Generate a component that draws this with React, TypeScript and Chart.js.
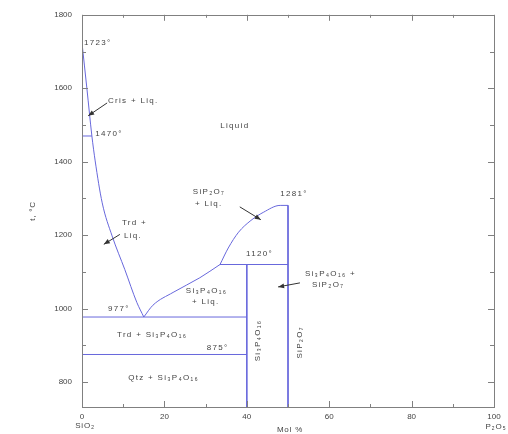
import { useEffect, useRef } from "react";
import { Chart, registerables } from "chart.js";

Chart.register(...registerables);

// Axis ranges and ticks
const molMin = 0;
const molMax = 100;
const tempMin = 732;
const tempMax = 1800;
const molTicks = [0, 10, 20, 30, 40, 50, 60, 70, 80, 90, 100];
const molTickLabels = [0, 20, 40, 60, 80, 100];
const tempTicks = [800, 900, 1000, 1100, 1200, 1300, 1400, 1500, 1600, 1700, 1800];
const tempTickLabels = [800, 1000, 1200, 1400, 1600, 1800];

// Silica liquidus (cristobalite / tridymite + liquid), mol % P2O5 vs °C
const silicaLiquidusMol = [0, 1.2, 2.4, 3.2, 4.9, 7.3, 10.4, 13.3, 15];
const silicaLiquidusT = [1723, 1598, 1470, 1402, 1288, 1198, 1106, 1017, 977];

// Si3P4O16 liquidus from the eutectic to the peritectic
const si3p4LiquidusMol = [15, 17.2, 22.1, 28.6, 33.5];
const si3p4LiquidusT = [977, 1009, 1044, 1084, 1120];

// SiP2O7 liquidus up to its melting point
const sip2LiquidusMol = [33.5, 35.5, 38, 41, 44, 48.1, 50];
const sip2LiquidusT = [1120, 1165, 1208, 1240, 1262, 1281, 1281];

// Invariant lines
const crisTrdMol = [0, 2.4];
const crisTrdT = [1470, 1470];
const eutecticMol = [0, 40];
const eutecticT = [977, 977];
const qtzTrdMol = [0, 40];
const qtzTrdT = [875, 875];
const peritecticMol = [33.5, 50];
const peritecticT = [1120, 1120];
const si3p4Mol = [40, 40];
const si3p4T = [1120, tempMin];
const sip2Mol = [50, 50];
const sip2T = [1281, tempMin];

// [mol, temp, smooth]
const boundaries: [number[], number[], boolean][] = [
  [silicaLiquidusMol, silicaLiquidusT, true],
  [si3p4LiquidusMol, si3p4LiquidusT, true],
  [sip2LiquidusMol, sip2LiquidusT, true],
  [crisTrdMol, crisTrdT, false],
  [eutecticMol, eutecticT, false],
  [qtzTrdMol, qtzTrdT, false],
  [peritecticMol, peritecticT, false],
  [si3p4Mol, si3p4T, false],
  [sip2Mol, sip2T, false],
];

// Field and point labels: [text, mol %, °C, rotated]
const fieldLabels: [string, number, number, boolean][] = [
  ["1723°", 0.5, 1725, false],
  ["Cris + Liq.", 6.3, 1565, false],
  ["1470°", 3.2, 1477, false],
  ["Liquid", 37.1, 1498, false],
  ["SiP₂O₇", 26.9, 1318, false],
  ["+ Liq.", 27.4, 1285, false],
  ["1281°", 48.1, 1312, false],
  ["Trd +", 9.7, 1234, false],
  ["Liq.", 10.2, 1199, false],
  ["1120°", 39.8, 1150, false],
  ["Si₃P₄O₁₆", 25.2, 1048, false],
  ["+ Liq.", 26.7, 1018, false],
  ["977°", 6.3, 1000, false],
  ["Si₃P₄O₁₆ +", 54.1, 1094, false],
  ["SiP₂O₇", 55.8, 1064, false],
  ["Trd + Si₃P₄O₁₆", 8.5, 929, false],
  ["875°", 30.3, 894, false],
  ["Qtz + Si₃P₄O₁₆", 11.2, 811, false],
  ["Si₃P₄O₁₆", 42.7, 913, true],
  ["SiP₂O₇", 52.9, 908, true],
];

// Leader arrows: [from mol, from °C, to mol, to °C]
const leaderArrows: [number, number, number, number][] = [
  [6.1, 1560, 1.5, 1525],
  [9.2, 1202, 5.3, 1175],
  [38.3, 1277, 43.4, 1242],
  [52.9, 1070, 47.6, 1059],
];

const FONT = '"Liberation Sans", Arial, sans-serif';
const TEXT = "#444444";
const AXIS = "#808080";
const LINE = "#6868dc";

const decorPlugin = {
  id: "phaseDecor",
  afterDatasetsDraw(chart: any) {
    const { ctx, chartArea: a, scales } = chart;
    const xs = scales.x;
    const ys = scales.y;
    ctx.save();

    // frame
    ctx.strokeStyle = AXIS;
    ctx.lineWidth = 1;
    ctx.strokeRect(
      Math.round(a.left) + 0.5,
      Math.round(a.top) + 0.5,
      Math.round(a.right - a.left),
      Math.round(a.bottom - a.top)
    );

    // inward tick marks on all four sides
    ctx.beginPath();
    for (const v of molTicks) {
      const px = Math.round(xs.getPixelForValue(v)) + 0.5;
      const len = molTickLabels.includes(v) ? 6 : 3;
      ctx.moveTo(px, a.bottom);
      ctx.lineTo(px, a.bottom - len);
      ctx.moveTo(px, a.top);
      ctx.lineTo(px, a.top + len);
    }
    for (const v of tempTicks) {
      const py = Math.round(ys.getPixelForValue(v)) + 0.5;
      const len = tempTickLabels.includes(v) ? 6 : 4;
      ctx.moveTo(a.left, py);
      ctx.lineTo(a.left + len, py);
      ctx.moveTo(a.right, py);
      ctx.lineTo(a.right - len, py);
    }
    ctx.stroke();

    // labels
    ctx.fillStyle = TEXT;
    ctx.font = `8px ${FONT}`;
    ctx.textBaseline = "middle";
    ctx.letterSpacing = "1.3px";
    for (const [text, m, t, rot] of fieldLabels) {
      const px = xs.getPixelForValue(m);
      const py = ys.getPixelForValue(t);
      if (rot) {
        ctx.save();
        ctx.translate(px, py);
        ctx.rotate(-Math.PI / 2);
        ctx.textAlign = "center";
        ctx.fillText(text, 0, 0);
        ctx.restore();
      } else {
        ctx.textAlign = text === "Liquid" ? "center" : "left";
        ctx.fillText(text, px, py);
      }
    }

    // leader arrows
    ctx.strokeStyle = "#333333";
    ctx.fillStyle = "#333333";
    for (const [m0, t0, m1, t1] of leaderArrows) {
      const x0 = xs.getPixelForValue(m0);
      const y0 = ys.getPixelForValue(t0);
      const x1 = xs.getPixelForValue(m1);
      const y1 = ys.getPixelForValue(t1);
      const ang = Math.atan2(y1 - y0, x1 - x0);
      ctx.beginPath();
      ctx.moveTo(x0, y0);
      ctx.lineTo(x1, y1);
      ctx.stroke();
      const hl = 6;
      const hw = 2.4;
      ctx.beginPath();
      ctx.moveTo(x1, y1);
      ctx.lineTo(
        x1 - hl * Math.cos(ang) + hw * Math.sin(ang),
        y1 - hl * Math.sin(ang) - hw * Math.cos(ang)
      );
      ctx.lineTo(
        x1 - hl * Math.cos(ang) - hw * Math.sin(ang),
        y1 - hl * Math.sin(ang) + hw * Math.cos(ang)
      );
      ctx.closePath();
      ctx.fill();
    }

    // axis end components and titles
    ctx.fillStyle = TEXT;
    ctx.textAlign = "center";
    ctx.letterSpacing = "0.8px";
    ctx.fillText("SiO₂", xs.getPixelForValue(molMin) + 3, a.bottom + 19);
    ctx.fillText("P₂O₅", xs.getPixelForValue(molMax) + 2, a.bottom + 20);
    ctx.fillText("Mol %", (a.left + a.right) / 2 + 2, a.bottom + 23);
    ctx.save();
    ctx.translate(33, (a.top + a.bottom) / 2);
    ctx.rotate(-Math.PI / 2);
    ctx.fillText("t, °C", 0, 0);
    ctx.restore();

    ctx.restore();
  },
};

export default function App() {
  const ref = useRef<HTMLCanvasElement | null>(null);

  useEffect(() => {
    if (!ref.current) return;
    const chart = new Chart(ref.current, {
      type: "scatter",
      data: {
        datasets: boundaries.map(([mol, temp, smooth]) => ({
          data: mol.map((m, i) => ({ x: m, y: temp[i] })),
          showLine: true,
          borderColor: LINE,
          backgroundColor: LINE,
          borderWidth: 1,
          pointRadius: 0,
          cubicInterpolationMode: smooth ? "monotone" : "default",
          tension: smooth ? 0.4 : 0,
        })),
      },
      options: {
        responsive: false,
        animation: false,
        events: [],
        layout: { padding: { left: 8, top: 11, right: 14, bottom: 0 } },
        plugins: { legend: { display: false }, tooltip: { enabled: false } },
        scales: {
          x: {
            type: "linear",
            min: molMin,
            max: molMax,
            afterBuildTicks: (s: any) => {
              s.ticks = molTicks.map((v) => ({ value: v }));
            },
            afterFit: (s: any) => {
              s.height = 27;
            },
            grid: { display: false, drawTicks: false },
            border: { display: false },
            ticks: {
              padding: 5,
              color: TEXT,
              font: { family: FONT, size: 8 },
              maxRotation: 0,
              autoSkip: false,
              callback: (v: any) => (molTickLabels.includes(Number(v)) ? String(v) : ""),
            },
          },
          y: {
            type: "linear",
            min: tempMin,
            max: tempMax,
            afterBuildTicks: (s: any) => {
              s.ticks = tempTicks.map((v) => ({ value: v }));
            },
            afterFit: (s: any) => {
              s.width = 74;
            },
            grid: { display: false, drawTicks: false },
            border: { display: false },
            ticks: {
              padding: 10,
              color: TEXT,
              font: { family: FONT, size: 8 },
              autoSkip: false,
              callback: (v: any) => (tempTickLabels.includes(Number(v)) ? String(v) : ""),
            },
          },
        },
      },
      plugins: [decorPlugin],
    });
    return () => chart.destroy();
  }, []);

  return (
    <div style={{ position: "absolute", left: 0, top: 0, width: 508, height: 434, background: "#fff" }}>
      <canvas ref={ref} width={508} height={434} />
    </div>
  );
}
